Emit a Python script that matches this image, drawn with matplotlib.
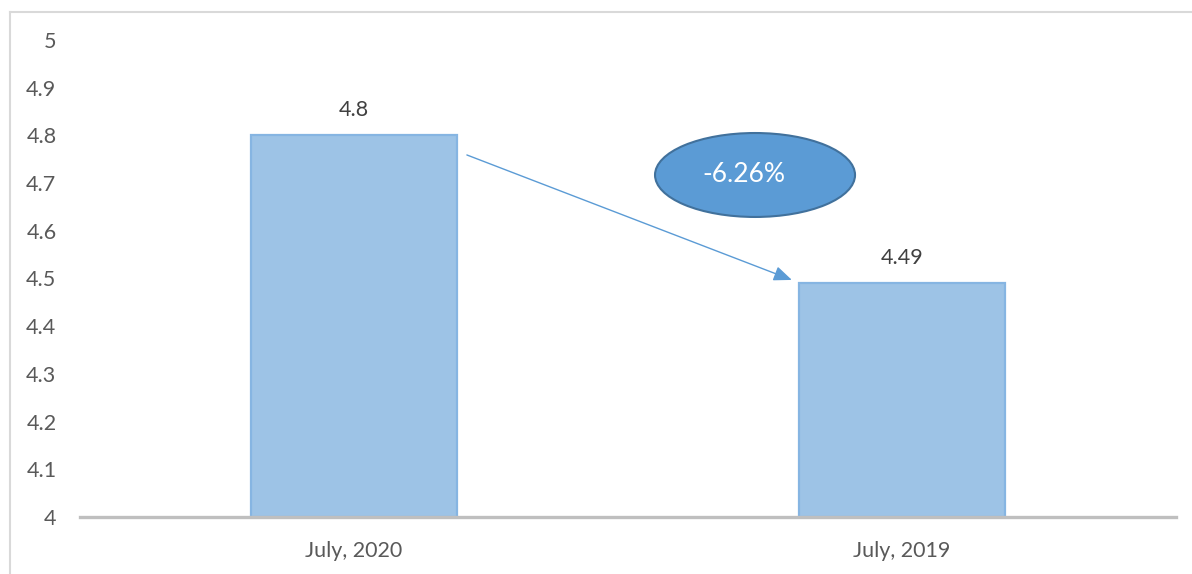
import matplotlib
matplotlib.use("Agg")
import matplotlib.pyplot as plt
from matplotlib.patches import Ellipse
from matplotlib.lines import Line2D

plt.rcParams['font.family'] = ['Lato', 'DejaVu Sans']

categories = ["July, 2020", "July, 2019"]
values = [4.8, 4.49]
value_labels = ["4.8", "4.49"]
yticks = [4, 4.1, 4.2, 4.3, 4.4, 4.5, 4.6, 4.7, 4.8, 4.9, 5]
ytick_labels = ["4", "4.1", "4.2", "4.3", "4.4", "4.5", "4.6", "4.7", "4.8", "4.9", "5"]
change_label = "-6.26%"

text_color = "#595959"
bar_color = "#9DC3E6"
bar_edge = "#86B5E2"
accent = "#5B9BD5"

fig = plt.figure(figsize=(11.92, 5.74), dpi=100)
ax = fig.add_axes([80 / 1192, 57 / 574, 1096 / 1192, 477 / 574])

# outer chart border (top and left visible)
fig.add_artist(Line2D([10 / 1192, 1191 / 1192], [1 - 12 / 574, 1 - 12 / 574],
                      transform=fig.transFigure, color="#d9d9d9", lw=1.5))
fig.add_artist(Line2D([10 / 1192, 10 / 1192], [0, 1 - 12 / 574],
                      transform=fig.transFigure, color="#d9d9d9", lw=1.5))

x = list(range(len(categories)))
ax.bar(x, [v - 4 for v in values], bottom=4, width=0.376,
       color=bar_color, edgecolor=bar_edge, linewidth=1.6, zorder=2)

for xi, v, lab in zip(x, values, value_labels):
    ax.annotate(lab, (xi, v), xytext=(0, 11), textcoords="offset points",
                ha="center", va="bottom", fontsize=15.5, color="#404040")

ax.set_xlim(-0.5, 1.5)
ax.set_ylim(4, 5)
ax.set_yticks(yticks)
ax.set_yticklabels(ytick_labels)
ax.set_xticks(x)
ax.set_xticklabels(categories)
ax.tick_params(axis="y", length=0, pad=17, labelsize=15.5, labelcolor=text_color)
ax.tick_params(axis="x", length=0, pad=17, labelsize=15.5, labelcolor=text_color)
for side in ["top", "right", "left"]:
    ax.spines[side].set_visible(False)
ax.spines["bottom"].set_color("#bfbfbf")
ax.spines["bottom"].set_linewidth(2.4)
ax.spines["bottom"].set_zorder(3)

# trend arrow between the bars
ax.annotate("", xy=(0.799, 4.497), xytext=(0.206, 4.759),
            arrowprops=dict(arrowstyle="-|>,head_length=1.1,head_width=0.45",
                            color=accent, lw=1, shrinkA=0, shrinkB=0))

# percentage change bubble
ell = Ellipse((0.6159, 0.717), 0.1825, 0.176, transform=ax.transAxes,
              facecolor=accent, edgecolor="#41719C", linewidth=1.5, zorder=4)
ax.add_patch(ell)
ax.text(0.606, 0.717, change_label, transform=ax.transAxes, ha="center",
        va="center", fontsize=19, color="white", zorder=5)

fig.savefig("out.png", dpi=100)
